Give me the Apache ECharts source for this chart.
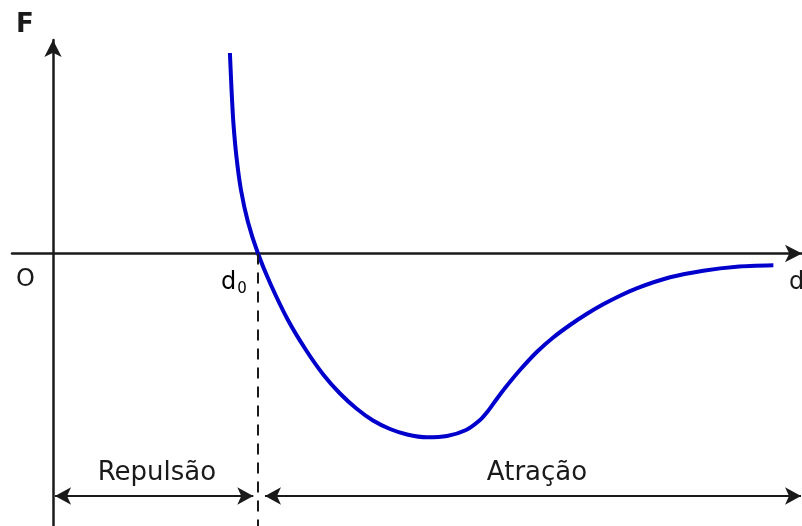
<!DOCTYPE html>
<html>
<head>
<meta charset="utf-8">
<script src="https://cdn.jsdelivr.net/npm/echarts@6/dist/echarts.min.js"></script>
<style>
  html, body { margin: 0; padding: 0; background: #fff; }
  #chart { width: 802px; height: 526px; }
</style>
</head>
<body>
<div id="chart"></div>
<script>
// Force between two particles as a function of their separation d (d0 = 1)
const distance = [0.863, 0.871, 0.880, 0.895, 0.917, 0.951, 1.000, 1.061, 1.146, 1.234,
  1.320, 1.400, 1.480, 1.561, 1.644, 1.727, 1.824, 1.922, 2.015, 2.083, 2.122, 2.161,
  2.205, 2.278, 2.360, 2.440, 2.522, 2.603, 2.684, 2.766, 2.847, 3.010, 3.172, 3.335, 3.514];
const force = [2.005, 1.635, 1.305, 0.965, 0.635, 0.315, 0.000, -0.305, -0.665, -0.965,
  -1.215, -1.400, -1.550, -1.670, -1.755, -1.810, -1.838, -1.825, -1.765, -1.665, -1.575, -1.465,
  -1.345, -1.165, -0.985, -0.840, -0.715, -0.605, -0.508, -0.422, -0.348, -0.238, -0.172, -0.132, -0.118];

// Axis extents and reference marks
const xRange = [-0.2, 3.6537];
const yRange = [-2.725, 2.135];
const d0 = 1;
const regionArrowY = -2.425;
const repulsionSpan = [0.01, 0.977];
const attractionSpan = [1.034, 3.649];

// Text labels: [text, x, y, align, bold, size]
const regionLabels = [
  ['Repulsão', 0.507, -2.195, 'center', false, 26],
  ['Atração', 2.361, -2.195, 'center', false, 26]
];
const axisLabels = [
  ['F', -0.137, 2.285, 'center', true, 26],
  ['O', -0.134, -0.265, 'center', false, 24],
  ['d', 3.590, -0.295, 'left', false, 24]
];
const d0Label = [0.945, -0.29];

const chart = echarts.init(document.getElementById('chart'));
const points = distance.map((d, i) => [d, force[i]]);

const ink = '#1a1a1a';
const arrowEnd = { symbol: 'arrow', symbolSize: [13, 16] };

chart.setOption({
  animation: false,
  grid: { left: 12, right: 0, top: 40, bottom: 0, containLabel: false },
  xAxis: {
    type: 'value', min: xRange[0], max: xRange[1],
    axisLine: { onZero: true, symbol: ['none', 'arrow'], symbolSize: [13, 17],
      lineStyle: { color: ink, width: 2.5 } },
    axisTick: { show: false }, axisLabel: { show: false }, splitLine: { show: false }
  },
  yAxis: {
    type: 'value', min: yRange[0], max: yRange[1],
    axisLine: { onZero: true, symbol: ['none', 'arrow'], symbolSize: [13, 17],
      lineStyle: { color: ink, width: 2.5 } },
    axisTick: { show: false }, axisLabel: { show: false }, splitLine: { show: false }
  },
  series: [{
    type: 'line',
    data: points,
    smooth: 0.25,
    showSymbol: false,
    clip: false,
    lineStyle: { color: '#0000cc', width: 4 },
    markLine: {
      silent: true,
      symbol: ['none', 'none'],
      label: { show: false },
      lineStyle: { color: ink, width: 2.2, type: 'solid' },
      data: [
        [
          { coord: [d0, 0], lineStyle: { type: [11, 8], width: 2, color: ink } },
          { coord: [d0, yRange[0]] }
        ],
        [
          Object.assign({ coord: [repulsionSpan[0], regionArrowY] }, arrowEnd),
          Object.assign({ coord: [repulsionSpan[1], regionArrowY] }, arrowEnd)
        ],
        [
          Object.assign({ coord: [attractionSpan[0], regionArrowY] }, arrowEnd),
          Object.assign({ coord: [attractionSpan[1], regionArrowY] }, arrowEnd)
        ]
      ]
    }
  }]
});

// Place text labels at data positions
const toPx = (x, y) => chart.convertToPixel({ gridIndex: 0 }, [x, y]);
const font = 'DejaVu Sans';
const elements = [];
regionLabels.concat(axisLabels).forEach(([t, x, y, align, bold, size]) => {
  const p = toPx(x, y);
  elements.push({ type: 'text', x: p[0], y: p[1],
    style: { text: t, font: (bold ? 'bold ' : '') + size + 'px "' + font + '"', fill: ink,
      align: align, verticalAlign: 'middle' } });
});
const pd = toPx(d0Label[0], d0Label[1]);
elements.push({ type: 'text', x: pd[0], y: pd[1],
  style: {
    text: '{d|d}{s|0}', align: 'right', verticalAlign: 'middle',
    rich: {
      d: { fontFamily: font, fontSize: 24, color: ink },
      s: { fontFamily: font, fontSize: 15, color: ink, padding: [14, 0, 0, 1] }
    }
  } });
chart.setOption({ graphic: { elements: elements } });
</script>
</body>
</html>
